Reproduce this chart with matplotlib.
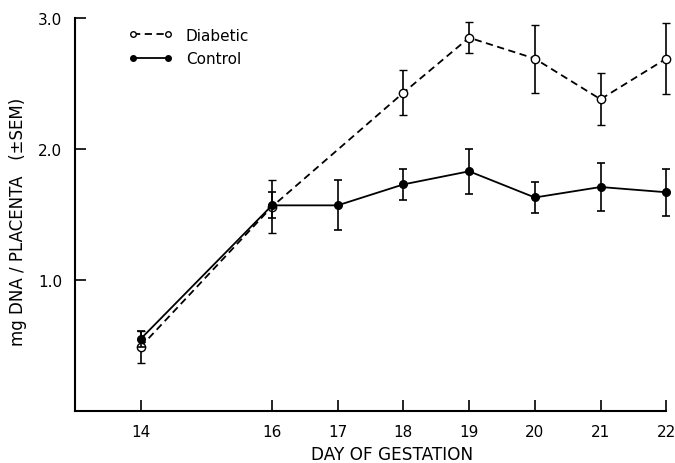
import matplotlib
matplotlib.use("Agg")
import matplotlib.pyplot as plt
from matplotlib.lines import Line2D

days_diabetic = [14, 16, 18, 19, 20, 21, 22]
diabetic = [0.49, 1.56, 2.43, 2.85, 2.69, 2.38, 2.69]
diabetic_sem = [0.12, 0.20, 0.17, 0.12, 0.26, 0.20, 0.27]

days_control = [14, 16, 17, 18, 19, 20, 21, 22]
control = [0.55, 1.57, 1.57, 1.73, 1.83, 1.63, 1.71, 1.67]
control_sem = [0.06, 0.10, 0.19, 0.12, 0.17, 0.12, 0.18, 0.18]

xticks = [14, 16, 17, 18, 19, 20, 21, 22]
yticks = [1.0, 2.0, 3.0]

plt.rcParams['font.family'] = ['DejaVu Sans']

fig = plt.figure(figsize=(6.75, 4.64), dpi=100)
ax = fig.add_axes([0.111, 0.112, 0.876, 0.847])

dash = (0, (4, 2.5))
ax.errorbar(days_diabetic, diabetic, yerr=diabetic_sem, color='black', lw=1.3,
            ls=dash, marker='o', ms=6, mfc='white', mec='black', mew=1.0,
            elinewidth=1.2, capsize=3, capthick=1.2, clip_on=False, zorder=3)
ax.errorbar(days_control, control, yerr=control_sem, color='black', lw=1.3,
            ls='-', marker='o', ms=5.5, mfc='black', mec='black',
            elinewidth=1.2, capsize=3, capthick=1.2, clip_on=False, zorder=4)

ax.set_xlim(13, 22)
ax.set_ylim(0, 3.0)
ax.set_xticks(xticks)
ax.set_xticklabels([str(d) for d in xticks])
ax.set_yticks(yticks)
ax.set_yticklabels(['1.0', '2.0', '3.0'])
ax.spines['top'].set_visible(False)
ax.spines['right'].set_visible(False)
for s in ['left', 'bottom']:
    ax.spines[s].set_linewidth(1.5)
ax.tick_params(direction='in', length=8, width=1.2, labelsize=11, pad=9)

ax.set_xlabel('DAY OF GESTATION', fontsize=12.2)
ax.xaxis.set_label_coords(0.536, -0.087)
ax.set_ylabel('mg DNA / PLACENTA   (\u00b1SEM)', fontsize=12)
ax.yaxis.set_label_coords(-0.081, 0.483)

handles = [
    Line2D([0], [0], color='black', lw=1.3, ls=dash, marker='o', ms=4,
           mfc='white', mec='black'),
    Line2D([0], [0], color='black', lw=1.3, ls='-', marker='o', ms=4,
           mfc='black', mec='black'),
]
ax.legend(handles, ['Diabetic', 'Control'], loc='upper left',
          bbox_to_anchor=(0.078, 0.995), frameon=False, borderpad=0,
          fontsize=11, handlelength=2.9, handletextpad=0.85, labelspacing=0.55,
          numpoints=2)

fig.savefig('out.png', dpi=100)
